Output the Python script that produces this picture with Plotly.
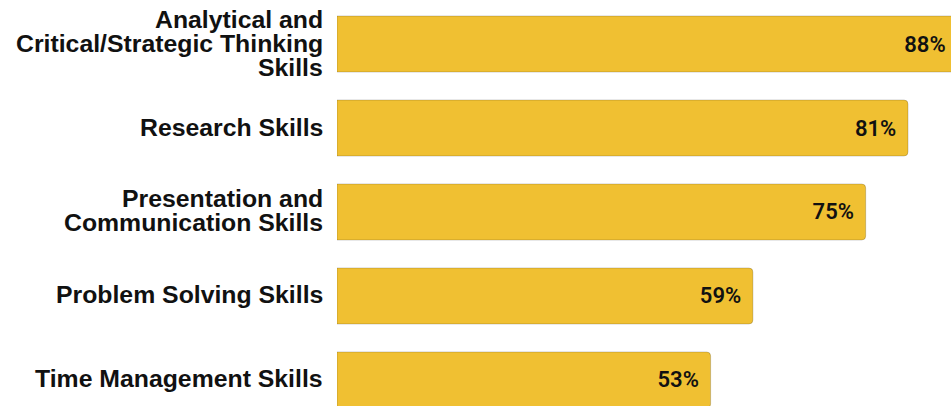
import plotly.graph_objects as go

categories = [
    "Analytical and<br>Critical/Strategic Thinking<br>Skills",
    "Research Skills",
    "Presentation and<br>Communication Skills",
    "Problem Solving Skills",
    "Time Management Skills",
]
values = [88, 81, 75, 59, 53]
value_labels = ["88%", "81%", "75%", "59%", "53%"]

BAR_COLOR = "#F0C032"
LABEL_FONT = dict(family="Liberation Sans, Arial, sans-serif", size=24.8, color="#111111")
VALUE_FONT = dict(family="Roboto, sans-serif", size=22, color="#111111", weight=600)
LINE_PITCH = 24
PAD = "\u00a0\u200a"

fig = go.Figure()
fig.add_trace(go.Bar(
    x=values,
    y=categories,
    orientation="h",
    text=[t + PAD for t in value_labels],
    texttemplate="%{text}",
    textposition="inside",
    insidetextanchor="end",
    textangle=0,
    constraintext="none",
    insidetextfont=VALUE_FONT,
    marker=dict(color=BAR_COLOR, line=dict(color="rgba(0,0,0,0.18)", width=1)),
    hoverinfo="skip",
))

annotations = []
for cat in categories:
    lines = cat.split("<br>")
    n = len(lines)
    for i, line in enumerate(lines):
        offset = (i - (n - 1) / 2) * LINE_PITCH
        annotations.append(dict(
            x=0, xref="paper", y=cat, yref="y",
            text="<b>" + line + "</b>", showarrow=False,
            xanchor="right", yanchor="middle", xshift=-12, yshift=-offset + 1,
            font=LABEL_FONT,
        ))

fig.update_layout(
    width=951, height=406,
    margin=dict(l=337, r=0, t=0, b=0),
    paper_bgcolor="white", plot_bgcolor="white",
    bargap=0.333, barcornerradius=4,
    showlegend=False,
    annotations=annotations,
    xaxis=dict(range=[0, 87.1], visible=False, fixedrange=True),
    yaxis=dict(categoryorder="array", categoryarray=categories,
               range=[4.31, -0.524], showticklabels=False, showgrid=False,
               zeroline=False, fixedrange=True),
)

fig.write_html("out.html", config={"displayModeBar": False})
